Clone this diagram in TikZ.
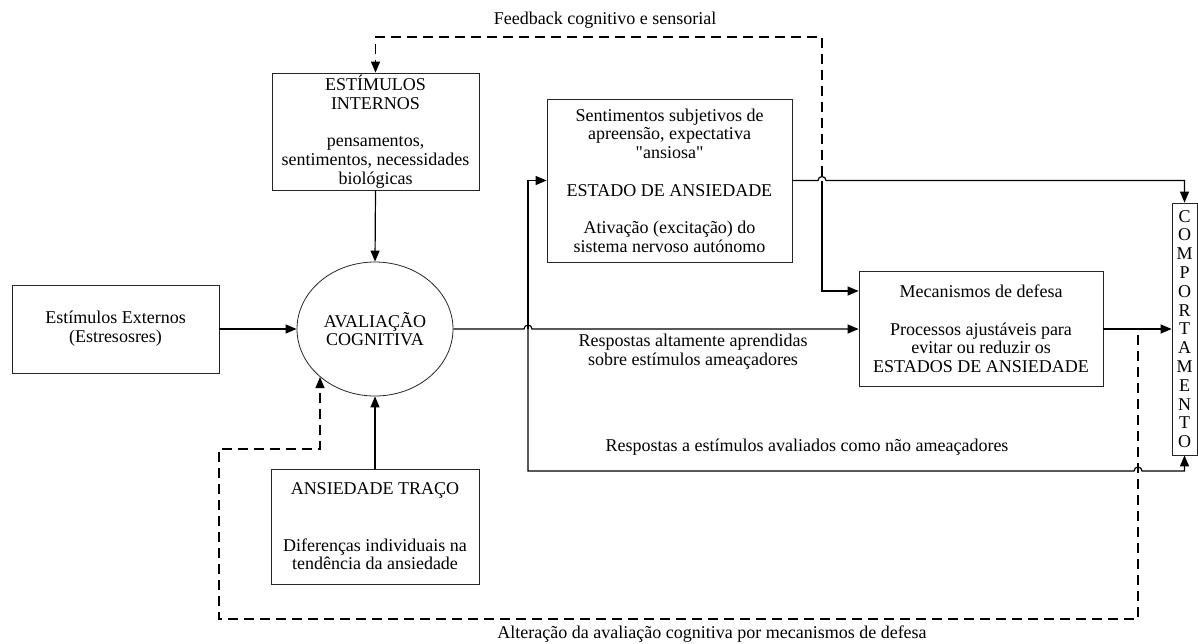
\documentclass[tikz,border=0pt]{standalone}
\usepackage{fontspec}
\setmainfont{Liberation Serif}
\usetikzlibrary{arrows.meta,shapes.geometric}
\tikzset{
  box/.style={draw=black!85,line width=0.8pt,align=center,inner sep=0pt,font=\fontsize{18}{18.7}\selectfont},
  lbl/.style={align=center,inner sep=0pt,font=\fontsize{18}{18.7}\selectfont},
  conn/.style={line width=1.2pt,-{Triangle[length=11pt,width=9pt]}},
  plain/.style={line width=1.2pt},
  dsh/.style={line width=1.2pt,dash pattern=on 10pt off 6pt},
}
\begin{document}
\begin{tikzpicture}[x=1pt,y=-1pt]
\useasboundingbox (0,0) rectangle (1198,643);
% nodes
\node[box,minimum width=207,minimum height=88] (ext) at (115.5,329) {Estímulos Externos\\(Estresosres)};
\node[box,ellipse,minimum width=156,minimum height=134] (ell) at (375,329) {AVALIAÇÃO\\COGNITIVA};
\node[box,minimum width=207,minimum height=117] (int) at (375.5,131.5) {ESTÍMULOS\\INTERNOS\\[18.7pt]pensamentos,\\sentimentos, necessidades\\biológicas};
\node[box,minimum width=208,minimum height=115] (tra) at (375,526.5) {ANSIEDADE TRAÇO\\[37.4pt]Diferenças individuais na\\tendência da ansiedade};
\node[box,minimum width=245,minimum height=163] (est) at (669.5,180.5) {Sentimentos subjetivos de\\apreensão, expectativa\\\textquotedbl ansiosa\textquotedbl\\[18.7pt]ESTADO DE ANSIEDADE\\[18.7pt]Ativação (excitação) do\\sistema nervoso autónomo};
\node[box,minimum width=244,minimum height=115] (mec) at (981,329) {Mecanismos de defesa\\[18.7pt]Processos ajustáveis para\\evitar ou reduzir os\\ESTADOS DE ANSIEDADE};
\node[box,minimum width=25,minimum height=252,font=\fontsize{18}{18.8}\selectfont] (comp) at (1184.5,329) {C\\O\\M\\P\\O\\R\\T\\A\\M\\E\\N\\T\\O};
% labels
\node[lbl] (lfb) at (605,20) {Feedback cognitivo e sensorial};
\node[lbl] (lresp) at (693,352) {Respostas altamente aprendidas\\sobre estímulos ameaçadores};
\node[lbl] (lnao) at (807,447) {Respostas a estímulos avaliados como não ameaçadores};
\node[lbl] (lalt) at (712,634) {Alteração da avaliação cognitiva por mecanismos de defesa};
% coordinates
\coordinate (sp) at (528,329);
\coordinate (jn) at (822,180.5);
\coordinate (brk) at (822,291);
\coordinate (fbs) at (822,176);
\coordinate (fbt) at (822,37);
\coordinate (bl) at (528,471);
\coordinate (alts) at (1138,335);
\coordinate (altb) at (1138,619);
\coordinate (altl) at (219,619);
\coordinate (altu) at (219,449);
\coordinate (altc) at (320,449);
\coordinate (alte) at (320,377);
% connectors
\draw[conn] (ext.east) -- (ell.west);
\draw[conn] (int.south) -- (ell.north);
\draw[conn] (tra.north) -- (ell.south);
\draw[conn] (ell.east) -- (524,329) arc[start angle=180,end angle=0,radius=4pt] -- (mec.west);
\draw[conn] (sp) |- (est.west);
\draw[conn] (sp) -- (bl) -- (1134,471) arc[start angle=180,end angle=0,radius=4pt] -| (comp.south);
\draw[conn] (est.east) -- (818,180.5) arc[start angle=180,end angle=0,radius=4pt] -| (comp.north);
\draw[conn] (jn) -- (brk) -- (brk -| mec.west);
\draw[conn] (mec.east) -- (comp.west);
\draw[dsh,-{Triangle[length=11pt,width=9pt]}] (fbs) -- (fbt) -| (int.north);
\draw[dsh,-{Triangle[length=11pt,width=9pt]}] (alts) -- (altb) -- (altl) -- (altu) -- (altc) -- (alte);
\end{tikzpicture}
\end{document}
